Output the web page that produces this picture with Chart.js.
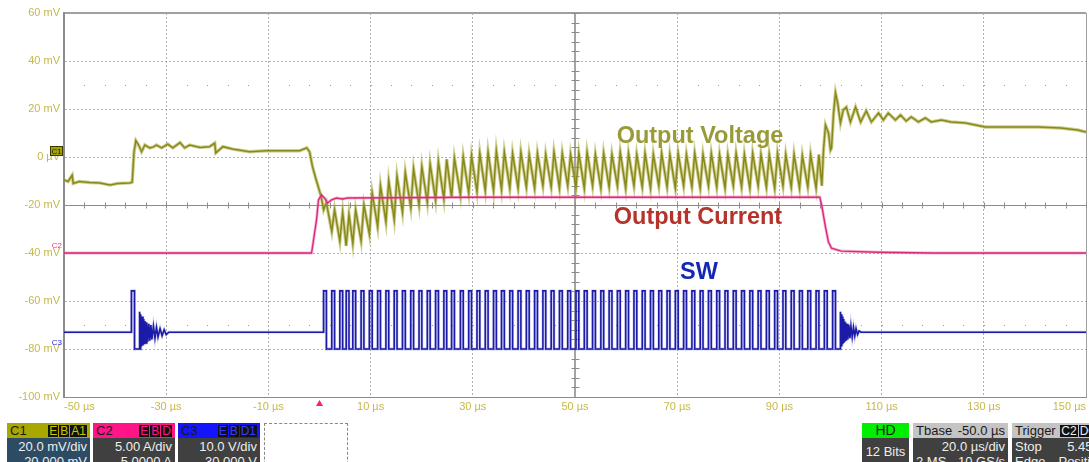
<!DOCTYPE html>
<html>
<head>
<meta charset="utf-8">
<script src="https://cdn.jsdelivr.net/npm/chart.js@4.4.0/dist/chart.umd.min.js"></script>
<style>
body { margin: 0; background: #fff; font-family: "Liberation Sans", Arial, sans-serif; }
#wrap { position: relative; width: 1089px; height: 462px; overflow: hidden; }
#scope { position: absolute; left: 0; top: 0; }
.tag { position: absolute; font-weight: bold; font-size: 23.5px; line-height: 26px; white-space: nowrap; transform: translateX(-50%); }
.box { position: absolute; top: 423px; height: 45px; font-size: 13px; }
.hd { height: 15px; line-height: 15px; padding: 0 3px; position: relative; color: #1a1a1a; }
.bd { background: #404040; color: #eee; height: 30px; padding: 1px 3px 0; line-height: 15px; position: relative; }
.r { text-align: right; }
.bg { display: inline-block; background: #111; font-size: 12px; line-height: 12px; padding: 0 1px; margin-left: 1px; }
.sp { display: flex; justify-content: space-between; }
</style>
</head>
<body>
<div id="wrap">
  <canvas id="scope" width="1089" height="420"></canvas>

  <div class="tag" style="left:700px;top:122px;color:#9a9a36;">Output Voltage</div>
  <div class="tag" style="left:698px;top:203px;color:#b5332a;">Output Current</div>
  <div class="tag" style="left:699px;top:258px;color:#1428b4;">SW</div>

  <div class="box" style="left:7px;width:83px;">
    <div class="hd sp" style="background:#a8a800;"><span>C1</span><span><span class="bg" style="color:#c8c800">E</span><span class="bg" style="color:#c8c800">B</span><span class="bg" style="color:#c8c800">A1</span></span></div>
    <div class="bd r" style="background:#2e4b64;">20.0 mV/div<br>20.000 mV</div>
  </div>
  <div class="box" style="left:93px;width:82px;">
    <div class="hd sp" style="background:#ff1585;"><span>C2</span><span><span class="bg" style="color:#ff1585">E</span><span class="bg" style="color:#ff1585">B</span><span class="bg" style="color:#ff1585">D</span></span></div>
    <div class="bd r">5.00 A/div<br>-5.0000 A</div>
  </div>
  <div class="box" style="left:178px;width:82px;">
    <div class="hd sp" style="background:#1414ff;"><span>C3</span><span><span class="bg" style="color:#3a3aff">E</span><span class="bg" style="color:#3a3aff">B</span><span class="bg" style="color:#3a3aff">D1</span></span></div>
    <div class="bd r">10.0 V/div<br>-30.000 V</div>
  </div>
  <div style="position:absolute;left:264px;top:423px;width:82px;height:50px;border:1px dashed #888;border-bottom:none;"></div>

  <div class="box" style="left:862px;width:47px;text-align:center;">
    <div class="hd" style="background:#00ee00;font-size:14px;">HD</div>
    <div class="bd" style="line-height:26px;">12 Bits</div>
  </div>
  <div class="box" style="left:913px;width:95px;">
    <div class="hd sp" style="background:#c4c4c4;"><span>Tbase</span><span>-50.0 µs</span></div>
    <div class="bd"><div class="r">20.0 µs/div</div><div class="sp"><span>2 MS</span><span>10 GS/s</span></div></div>
  </div>
  <div class="box" style="left:1012px;width:95px;">
    <div class="hd" style="background:#c4c4c4;">Trigger <span class="bg" style="color:#eee">C2</span><span class="bg" style="color:#eee">DC</span></div>
    <div class="bd"><div class="sp"><span>Stop</span><span>5.45 A</span></div><div class="sp"><span>Edge</span><span>Positive</span></div></div>
  </div>
</div>

<script>
// time in µs, vertical in graticule mV (all three channels share the screen)

// C1 output voltage before the burst
const vPre = [[-50,-9.6],[-49.2,-10.2],[-48.4,-7.6],[-48.2,-11],[-47,-10.2],[-45,-10.6],[-43,-10.8],[-41,-11.7],[-39.5,-11],
  [-37.1,-10.8],[-36.66,-10.5],[-36.3,2],[-35.94,6.8],[-35.4,5],[-34.82,2.2],[-34.18,5],[-33.2,3.8],[-32.5,4.2],[-31.9,5],
  [-30.9,3.8],[-29.7,5.4],[-28.7,3.8],[-27.3,6],[-26.4,3.8],[-25.4,5],[-23.4,4],[-21.5,4.3],[-20.5,5.8],[-20.3,1.7],
  [-18.9,4.3],[-17,3.3],[-13.7,2.2],[-10.4,2.6],[-6.4,2.6],[-3.9,2.6],[-2.5,3.8],[-1.95,2.2],[-1.37,-4],[-0.64,-9.6],[0.33,-16.5]];

// switching edges (rising) of the burst
const swEdges = [0.80,2.40,3.98,5.22,6.52,8.14,9.76,11.38,13.00,14.62,16.24,17.86,19.48,21.10,22.72,24.34,25.85,27.58,
  29.20,30.82,32.44,34.06,35.62,37.24,38.86,40.48,42.10,43.72,45.34,46.96,48.58,50.20,51.82,53.44,55.06,56.68,58.30,
  59.92,61.54,63.16,64.78,66.40,68.02,69.64,71.26,72.88,74.50,76.12,77.74,79.36,80.98,82.60,84.22,85.84,87.46,89.08,
  90.70,92.32,93.94,95.56,97.18,98.80,100.42];
const swOnTime = 0.55;

// ripple per cycle of C1 during the burst
const vTrough = [-22,-31,-35,-37,-36,-35,-32,-29,-27,-26,-23,-21,-20,-19,-18,-17.5,-17,-16,-15,-14.5,-14,-14,-13.5,-13,
  -13,-12.5,-13,-12,-12.5,-13,-12,-12.5,-13,-12,-13,-12.5,-12,-13,-12,-12.5,-13,-12,-12.5,-13,-12,-12.5,-13,-12,-12.5,
  -13,-12,-12.5,-13,-12,-12.5,-13,-12,-12.5,-13,-12.5,-13];
const vPeak = [-19,-22,-23,-24,-22,-20,-15,-12,-10,-8,-6.5,-5,-4,-3,-2,-1,-0.5,0,0.5,1.5,2,2.5,2,1.5,2,1,1.5,1,2,1.5,1,
  1.5,2,1,1.5,1,2,1.5,1,1.5,1,1.5,1,1.5,1,1.5,1,1.5,1,1,1.5,1,1.5,1,1,1.5,1,1,0.5,1,1];

// C1 after the burst
const vPost = [[98.3,-12],[98.63,2.9],[99.02,13.3],[99.61,10],[100,2.9],[100.2,3.75],[100.6,18.3],[100.98,26.7],[101.4,22.5],
  [101.95,14.2],[102.5,19.6],[103.1,20.8],[103.9,14.6],[104.9,20.8],[105.9,14.6],[107,19.2],[108,14.6],[109.4,18.3],
  [110.35,15.4],[111.3,18.3],[112.7,15.4],[113.7,17.5],[114.8,15],[115.8,16.7],[117.2,14.6],[118.55,16.25],[119.7,14.6],
  [121.7,15.4],[123.6,14.6],[126.4,14.2],[130.3,12.5],[135.35,12.5],[140.6,12.5],[145.1,12.1],[148.4,11.25],[150,10.4]];

// C2 output current
const iOut = [[-50,-40],[-1.56,-40],[-1.37,-37.5],[-0.59,-26.3],[-0.2,-17.9],[0.39,-15.8],[0.98,-17.1],[1.56,-19.2],
  [2.34,-17.9],[3.32,-17.1],[4.49,-17.5],[5.47,-17.1],[30,-16.8],[97.9,-16.7],[98.3,-20.4],[99,-29],[99.6,-35.4],
  [100.2,-38],[102.1,-39.2],[109.4,-39.7],[120,-40],[150,-40]];

// C3 switch node levels
const swIdle = -73, swLow = -80, swHigh = -55.8;
const swLone = [-36.8, -36.2];
const swRing1 = [[-35.2,-64.5],[-35.1,-80],[-35,-65.5],[-34.85,-79],[-34.7,-66.5],[-34.55,-78.5],[-34.4,-67.5],[-34.25,-78],
  [-34.1,-68.5],[-33.95,-77.5],[-33.8,-69],[-33.6,-77],[-33.4,-69.5],[-33.2,-76.5],[-33,-70],[-32.8,-76],[-32.5,-70.5],
  [-32.2,-75.5],[-31.9,-71],[-31.6,-75],[-31.2,-71.5],[-30.8,-74.5],[-30.4,-72],[-30,-74],[-29.5,-73]];
const swRing2 = [[101.9,-64.5],[102,-80],[102.1,-65.5],[102.2,-79],[102.3,-66.5],[102.4,-78],[102.5,-67.5],[102.6,-77.5],
  [102.7,-68.5],[102.8,-77],[102.95,-69],[103.1,-76.5],[103.25,-69.5],[103.4,-76],[103.6,-70],[103.8,-75.5],[104,-70.5],
  [104.25,-75],[104.5,-71],[104.75,-74.5],[105,-71.5],[105.3,-74],[105.6,-72.5],[106,-73]];

const P = (t, v) => ({x: t, y: v});

// build C1
const vData = vPre.map(p => P(p[0], p[1]));
for (let k = 0; k < vPeak.length; k++) {
  vData.push(P(swEdges[k], vTrough[k]));
  vData.push(P(swEdges[k] + swOnTime, vPeak[k]));
}
vPost.forEach(p => vData.push(P(p[0], p[1])));

// build C3
const swData = [P(-50, swIdle), P(swLone[0], swIdle), P(swLone[0], swHigh), P(swLone[1], swHigh), P(swLone[1], swLow),
  P(swRing1[0][0], swLow)];
swRing1.forEach(p => swData.push(P(p[0], p[1])));
swData.push(P(swEdges[0], swIdle));
swEdges.forEach((e, k) => {
  if (k > 0) swData.push(P(e, swLow));
  swData.push(P(e, swHigh));
  swData.push(P(e + swOnTime, swHigh));
  swData.push(P(e + swOnTime, swLow));
});
swData.push(P(swRing2[0][0], swLow));
swRing2.forEach(p => swData.push(P(p[0], p[1])));
swData.push(P(150, swIdle));

const iData = iOut.map(p => P(p[0], p[1]));

function trace(data, color, width) {
  return {data, borderColor: color, borderWidth: width, pointRadius: 0, tension: 0, fill: false};
}

const graticule = {
  id: 'graticule',
  beforeDatasetsDraw(chart) {
    const {ctx, scales: {x, y}} = chart;
    const cx = Math.round(x.getPixelForValue(50)) + 0.5;
    const cy = Math.round(y.getPixelForValue(-20)) + 0.5;
    ctx.save();
    ctx.strokeStyle = '#8c8c8c';
    ctx.lineWidth = 1;
    ctx.beginPath();
    for (let t = -50; t <= 150; t += 4) {
      const px = Math.round(x.getPixelForValue(t)) + 0.5;
      ctx.moveTo(px, cy - 3); ctx.lineTo(px, cy + 3);
    }
    for (let v = -100; v <= 60; v += 4) {
      const py = Math.round(y.getPixelForValue(v)) + 0.5;
      ctx.moveTo(cx - 4, py); ctx.lineTo(cx + 4, py);
    }
    ctx.stroke();
    ctx.fillStyle = '#9a9a9a';
    [30, -70].forEach(v => {
      const py = Math.round(y.getPixelForValue(v));
      for (let t = -46; t < 150; t += 4) ctx.fillRect(Math.round(x.getPixelForValue(t)), py, 1, 1);
    });
    ctx.restore();
  },
  afterDraw(chart) {
    const {ctx, scales: {x, y}} = chart;
    const left = chart.chartArea.left;
    ctx.save();
    // C1 offset marker
    const y1 = y.getPixelForValue(0) - 6;
    ctx.fillStyle = '#a3a300';
    ctx.strokeStyle = '#3a3a00';
    ctx.fillRect(left - 14, y1 - 5, 13, 10);
    ctx.strokeRect(left - 14 + 0.5, y1 - 5 + 0.5, 12, 9);
    ctx.fillStyle = '#222';
    ctx.font = '8px "Liberation Sans"';
    ctx.textAlign = 'center'; ctx.textBaseline = 'middle';
    ctx.fillText('C1', left - 7.5, y1 + 0.5);
    ctx.textAlign = 'right'; ctx.textBaseline = 'bottom';
    ctx.fillStyle = '#ff2a8a';
    ctx.fillText('C2', left - 2, y.getPixelForValue(-40) - 3);
    ctx.fillStyle = '#2a2ad0';
    ctx.fillText('C3', left - 2, y.getPixelForValue(-80) - 2);
    // trigger marker
    const tx = x.getPixelForValue(0), ty = chart.chartArea.bottom + 3;
    ctx.fillStyle = '#ff1a80';
    ctx.beginPath();
    ctx.moveTo(tx, ty); ctx.lineTo(tx - 3.5, ty + 6); ctx.lineTo(tx + 3.5, ty + 6); ctx.closePath();
    ctx.fill();
    ctx.restore();
  }
};

const isEdge = (c, vals) => c.tick && vals.includes(c.tick.value);

new Chart(document.getElementById('scope'), {
  type: 'line',
  data: {
    datasets: [
      trace(swData, 'rgba(90,90,210,0.3)', 2.8),
      trace(swData, '#000096', 1.6),
      trace(iData, 'rgba(240,90,160,0.45)', 3),
      trace(iData, '#c4045e', 1.4),
      trace(vData, 'rgba(165,165,50,0.55)', 3.4),
      trace(vData, '#666600', 1.5)
    ]
  },
  options: {
    responsive: false,
    animation: false,
    events: [],
    layout: {padding: {top: 13, right: 1, left: 0, bottom: 0}},
    plugins: {legend: {display: false}, tooltip: {enabled: false}},
    scales: {
      x: {
        type: 'linear', min: -50, max: 150,
        ticks: {stepSize: 20, align: 'inner', autoSkip: false, maxRotation: 0, padding: 3,
          color: '#c8b848', font: {family: '"Liberation Sans"', size: 11},
          callback: v => v + ' µs'},
        grid: {drawTicks: false,
          color: c => isEdge(c, [-50, 150]) ? '#a0a0a0' : (isEdge(c, [50]) ? '#a4a4a4' : '#b0b0b0'),
          lineWidth: c => isEdge(c, [50]) ? 2 : 1},
        border: {display: true, color: '#8c8c8c', width: 1,
          dash: c => isEdge(c, [-50, 50, 150]) ? [] : [2, 2]},
        afterFit: s => { s.height = 23; }
      },
      y: {
        type: 'linear', min: -100, max: 60,
        ticks: {stepSize: 20, autoSkip: false, padding: 4,
          color: '#c8b848', font: {family: '"Liberation Sans"', size: 11},
          callback: v => v === 0 ? '0 µV' : v + ' mV'},
        grid: {drawTicks: false,
          color: c => isEdge(c, [60, -100]) ? '#a0a0a0' : (isEdge(c, [-20]) ? '#8c8c8c' : '#b0b0b0'),
          lineWidth: c => isEdge(c, [60]) ? 2 : 1},
        border: {display: true, color: '#8c8c8c', width: 2,
          dash: c => isEdge(c, [60, -20, -100]) ? [] : [2, 2]},
        afterFit: s => { s.width = 64; }
      }
    }
  },
  plugins: [graticule]
});
</script>
</body>
</html>
